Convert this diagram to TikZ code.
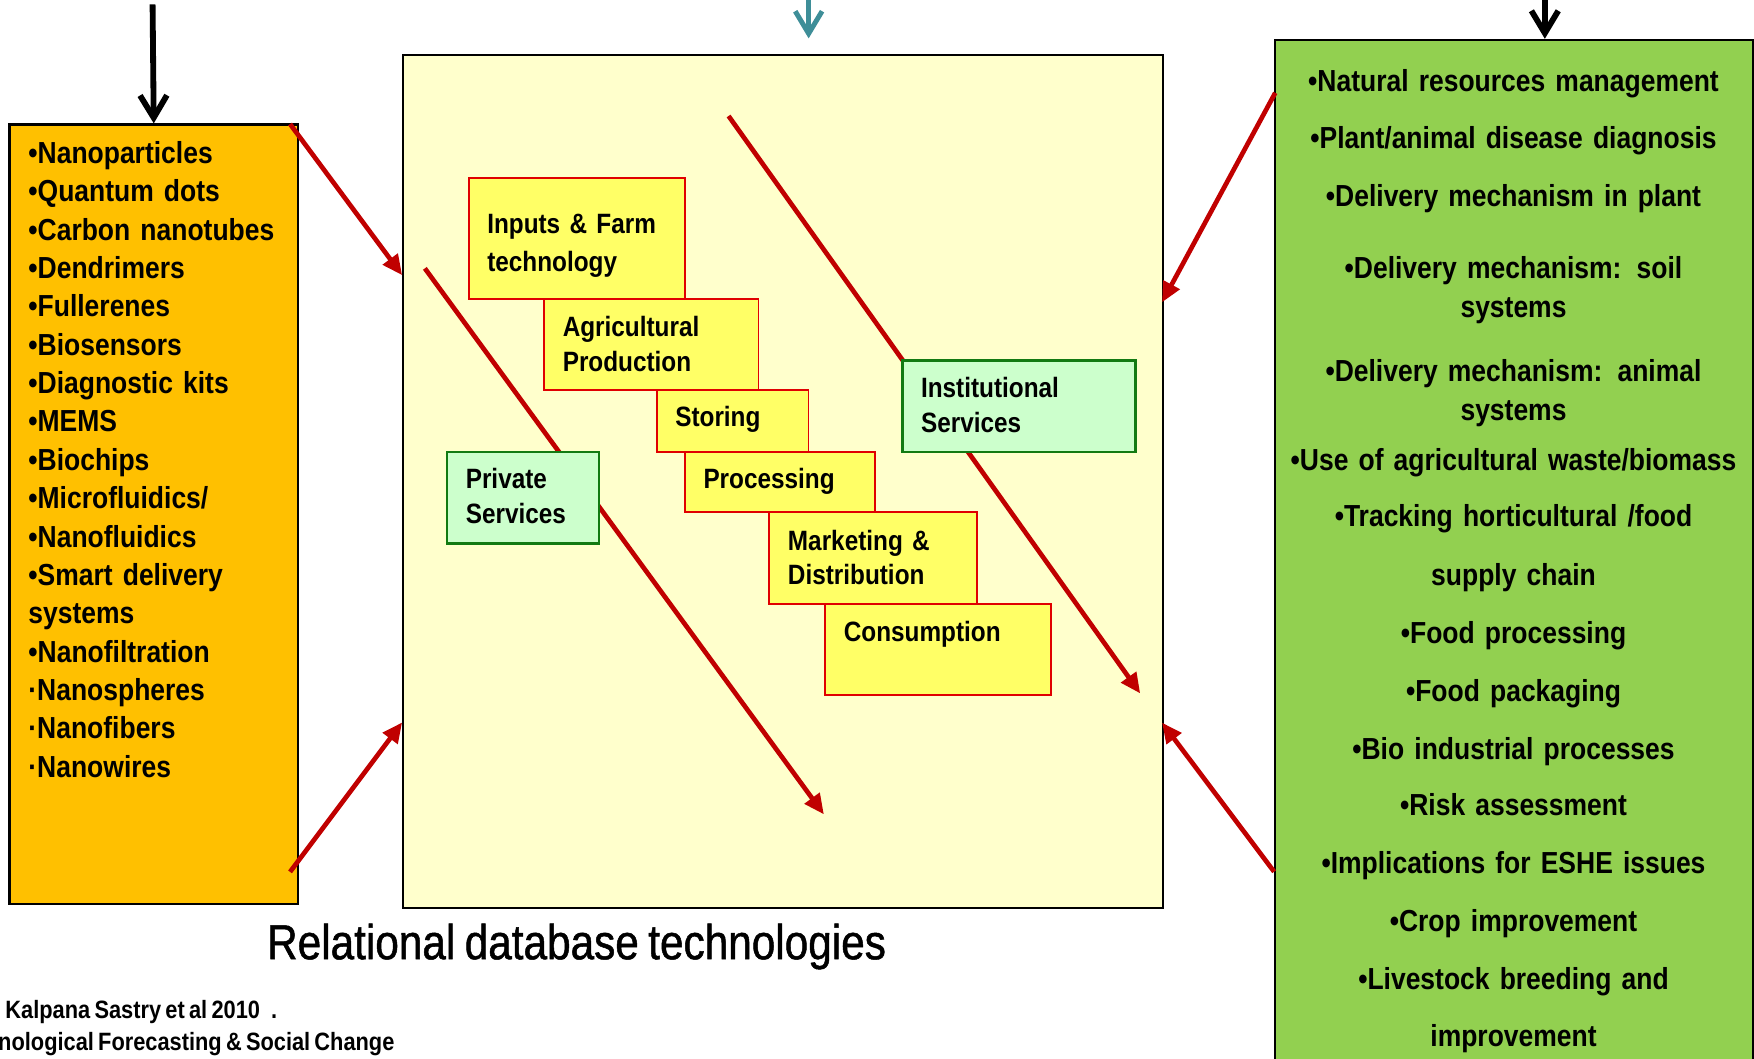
\documentclass[tikz,border=0pt]{standalone}
\usepackage{fontspec}
\setmainfont{Liberation Sans}[FakeStretch=0.87]
\newfontfamily\captionfont{Liberation Sans}[FakeStretch=0.86, FakeBold=1, WordSpace=0.8]
\newcommand\narrowspaces{\spaceskip=0.17em plus 0.08em minus 0.04em\relax}
\usetikzlibrary{arrows.meta}
\definecolor{techorange}{HTML}{FFC000}
\definecolor{chainfill}{HTML}{FFFFCC}
\definecolor{stepfill}{HTML}{FFFF66}
\definecolor{stepline}{HTML}{E00000}
\definecolor{svcfill}{HTML}{CCFFCC}
\definecolor{svcline}{HTML}{127A12}
\definecolor{appfill}{HTML}{92D050}
\definecolor{flowred}{HTML}{C00000}
\definecolor{feedteal}{HTML}{3E8E98}
\begin{document}
\begin{tikzpicture}[x=0.5pt,y=-0.5pt,
  panel/.style={draw=black, anchor=north west, inner sep=0pt},
  stepbox/.style={draw=stepline, fill=stepfill, line width=0.8pt, anchor=north west, inner sep=0pt},
  svcbox/.style={draw=svcline, fill=svcfill, line width=1.1pt, anchor=north west, inner sep=0pt},
  boxtext/.style={anchor=base west, inner sep=0pt, align=left, text width=100pt,
    font=\bfseries\fontsize{12.5}{15.6}\selectfont\narrowspaces},
  listtext/.style={anchor=base west, inner sep=0pt, align=left, text width=130pt,
    font=\bfseries\fontsize{13.6}{17.15}\selectfont\narrowspaces},
  apptext/.style={anchor=base, inner sep=0pt, align=center, text width=215pt,
    font=\bfseries\fontsize{13.6}{17.35}\selectfont\narrowspaces},
  flow/.style={draw=flowred, line width=2.1pt, -{Triangle[length=9pt,width=8pt]}},
  feed/.style={line width=2.6pt, -{Straight Barb[length=10pt,width=12pt]}}
]
\useasboundingbox (0,0) rectangle (1568,946);
\clip (0,0) rectangle (1568,946);

% the three columns
\node[panel, fill=techorange, line width=1.1pt, minimum width=128.85pt, minimum height=348.35pt] (tech) at (7.5,110.3) {};
\node[panel, fill=chainfill, line width=0.8pt, minimum width=339.65pt, minimum height=381.3pt] (chain) at (359.5,48.6) {};
\node[panel, fill=appfill, line width=1pt, minimum width=213.5pt, minimum height=480pt] (apps) at (1139,34.7) {};

% incoming arrows at the top
\coordinate (techin) at (136.4,4);
\coordinate (chainin) at (722.9,-4);
\coordinate (chainintip) at (722.9,34.3);
\coordinate (appsin) at (1381,-4);
\coordinate (appsintip) at (1381,34.7);
\draw[feed] (techin) -- (tech.north);
\draw[feed, draw=feedteal, line width=2.2pt] (chainin) -- (chainintip);
\draw[feed] (appsin) -- (appsintip);

% nanotechnology tools
\node[listtext] (techlist) at (25,146) {%
•Nanoparticles\\
•Quantum dots\\
•Carbon nanotubes\\
•Dendrimers\\
•Fullerenes\\
•Biosensors\\
•Diagnostic kits\\
•MEMS\\
•Biochips\\
•Microfluidics/\\
•Nanofluidics\\
•Smart delivery\\
systems\\
•Nanofiltration\\
·Nanospheres\\
·Nanofibers\\
·Nanowires};

% application areas
\node[apptext] (app1) at (1353,81.5) {•Natural resources management};
\node[apptext] (app2) at (1353,132.9) {•Plant/animal disease diagnosis};
\node[apptext] (app3) at (1353,184.2) {•Delivery mechanism in plant};
\node[apptext] (app4) at (1353,249.2) {•Delivery mechanism: soil\\systems};
\node[apptext] (app5) at (1353,341.3) {•Delivery mechanism: animal\\systems};
\node[apptext] (app6) at (1353,420.3) {•Use of agricultural waste/biomass};
\node[apptext] (app7) at (1353,471) {•Tracking horticultural /food};
\node[apptext] (app8) at (1353,523.2) {supply chain};
\node[apptext] (app9) at (1353,575.3) {•Food processing};
\node[apptext] (app10) at (1353,626.9) {•Food packaging};
\node[apptext] (app11) at (1353,678.7) {•Bio industrial processes};
\node[apptext] (app12) at (1353,729.3) {•Risk assessment};
\node[apptext] (app13) at (1353,780.9) {•Implications for ESHE issues};
\node[apptext] (app14) at (1353,832.4) {•Crop improvement};
\node[apptext] (app15) at (1353,884.6) {•Livestock breeding and};
\node[apptext] (app16) at (1353,935.8) {improvement};

% service flows across the value chain (drawn beneath the service boxes)
\coordinate (privstart) at (379.8,239.9);
\coordinate (privend) at (736.5,728);
\coordinate (inststart) at (651.3,103.7);
\coordinate (instend) at (1019.3,619.9);
\draw[flow] (privstart) -- (privend);
\draw[flow] (inststart) -- (instend);

% value chain steps
\node[stepbox, minimum width=96.65pt, minimum height=54.35pt] (inputs) at (418.2,158) {};
\node[stepbox, minimum width=95.8pt, minimum height=40.65pt] (agri) at (485.7,266.7) {};
\node[stepbox, minimum width=67.75pt, minimum height=27.5pt] (storing) at (586.5,348) {};
\node[stepbox, minimum width=84.85pt, minimum height=27pt] (processing) at (611.5,403) {};
\node[stepbox, minimum width=92.75pt, minimum height=41.1pt] (marketing) at (686.9,457) {};
\node[stepbox, minimum width=100.8pt, minimum height=40.7pt] (consumption) at (737,539.2) {};
\node[svcbox, minimum width=104pt, minimum height=40.9pt] (institutional) at (805.8,321.2) {};
\node[svcbox, minimum width=68pt, minimum height=40.9pt] (private) at (398.5,403) {};

\node[boxtext, font=\bfseries\fontsize{12.5}{17.15}\selectfont\narrowspaces] (inputs-t) at (435.2,208.6) {Inputs \& Farm\\technology};
\node[boxtext] (agri-t) at (502.7,301) {Agricultural\\Production};
\node[boxtext] (storing-t) at (603.3,381.4) {Storing};
\node[boxtext] (processing-t) at (628.5,437) {Processing};
\node[boxtext] (marketing-t) at (704,491.7) {Marketing \&\\Distribution};
\node[boxtext] (consumption-t) at (754,573.8) {Consumption};
\node[boxtext] (institutional-t) at (823,355.2) {Institutional\\Services};
\node[boxtext] (private-t) at (416,436.6) {Private\\Services};

% links between the columns and the value chain
\coordinate (techout) at (259.3,110.9);
\coordinate (techback) at (259.3,779.4);
\coordinate (chainL1) at (359.5,246);
\coordinate (chainL2) at (359.5,645.8);
\coordinate (appsout) at (1140,83);
\coordinate (appsback) at (1139,779.3);
\coordinate (chainR1) at (1038.8,270.3);
\coordinate (chainR2) at (1038.8,646);
\draw[flow] (techout) -- (chainL1);
\draw[flow] (techback) -- (chainL2);
\draw[flow] (appsout) -- (chainR1);
\draw[flow] (appsback) -- (chainR2);

% caption and source
\node[anchor=base west, inner sep=0pt, font=\captionfont\fontsize{22}{26}\selectfont] (title) at (238.4,857.5) {Relational database technologies};
\node[anchor=base west, inner sep=0pt, font=\bfseries\fontsize{11.2}{13}\selectfont\narrowspaces] (cite1) at (4.5,910.8) {Kalpana Sastry et al 2010\hspace{5pt}.};
\node[anchor=base east, inner sep=0pt, font=\bfseries\fontsize{11.2}{13}\selectfont\narrowspaces] (cite2) at (353,939.5) {nological Forecasting \& Social Change};
\end{tikzpicture}
\end{document}
